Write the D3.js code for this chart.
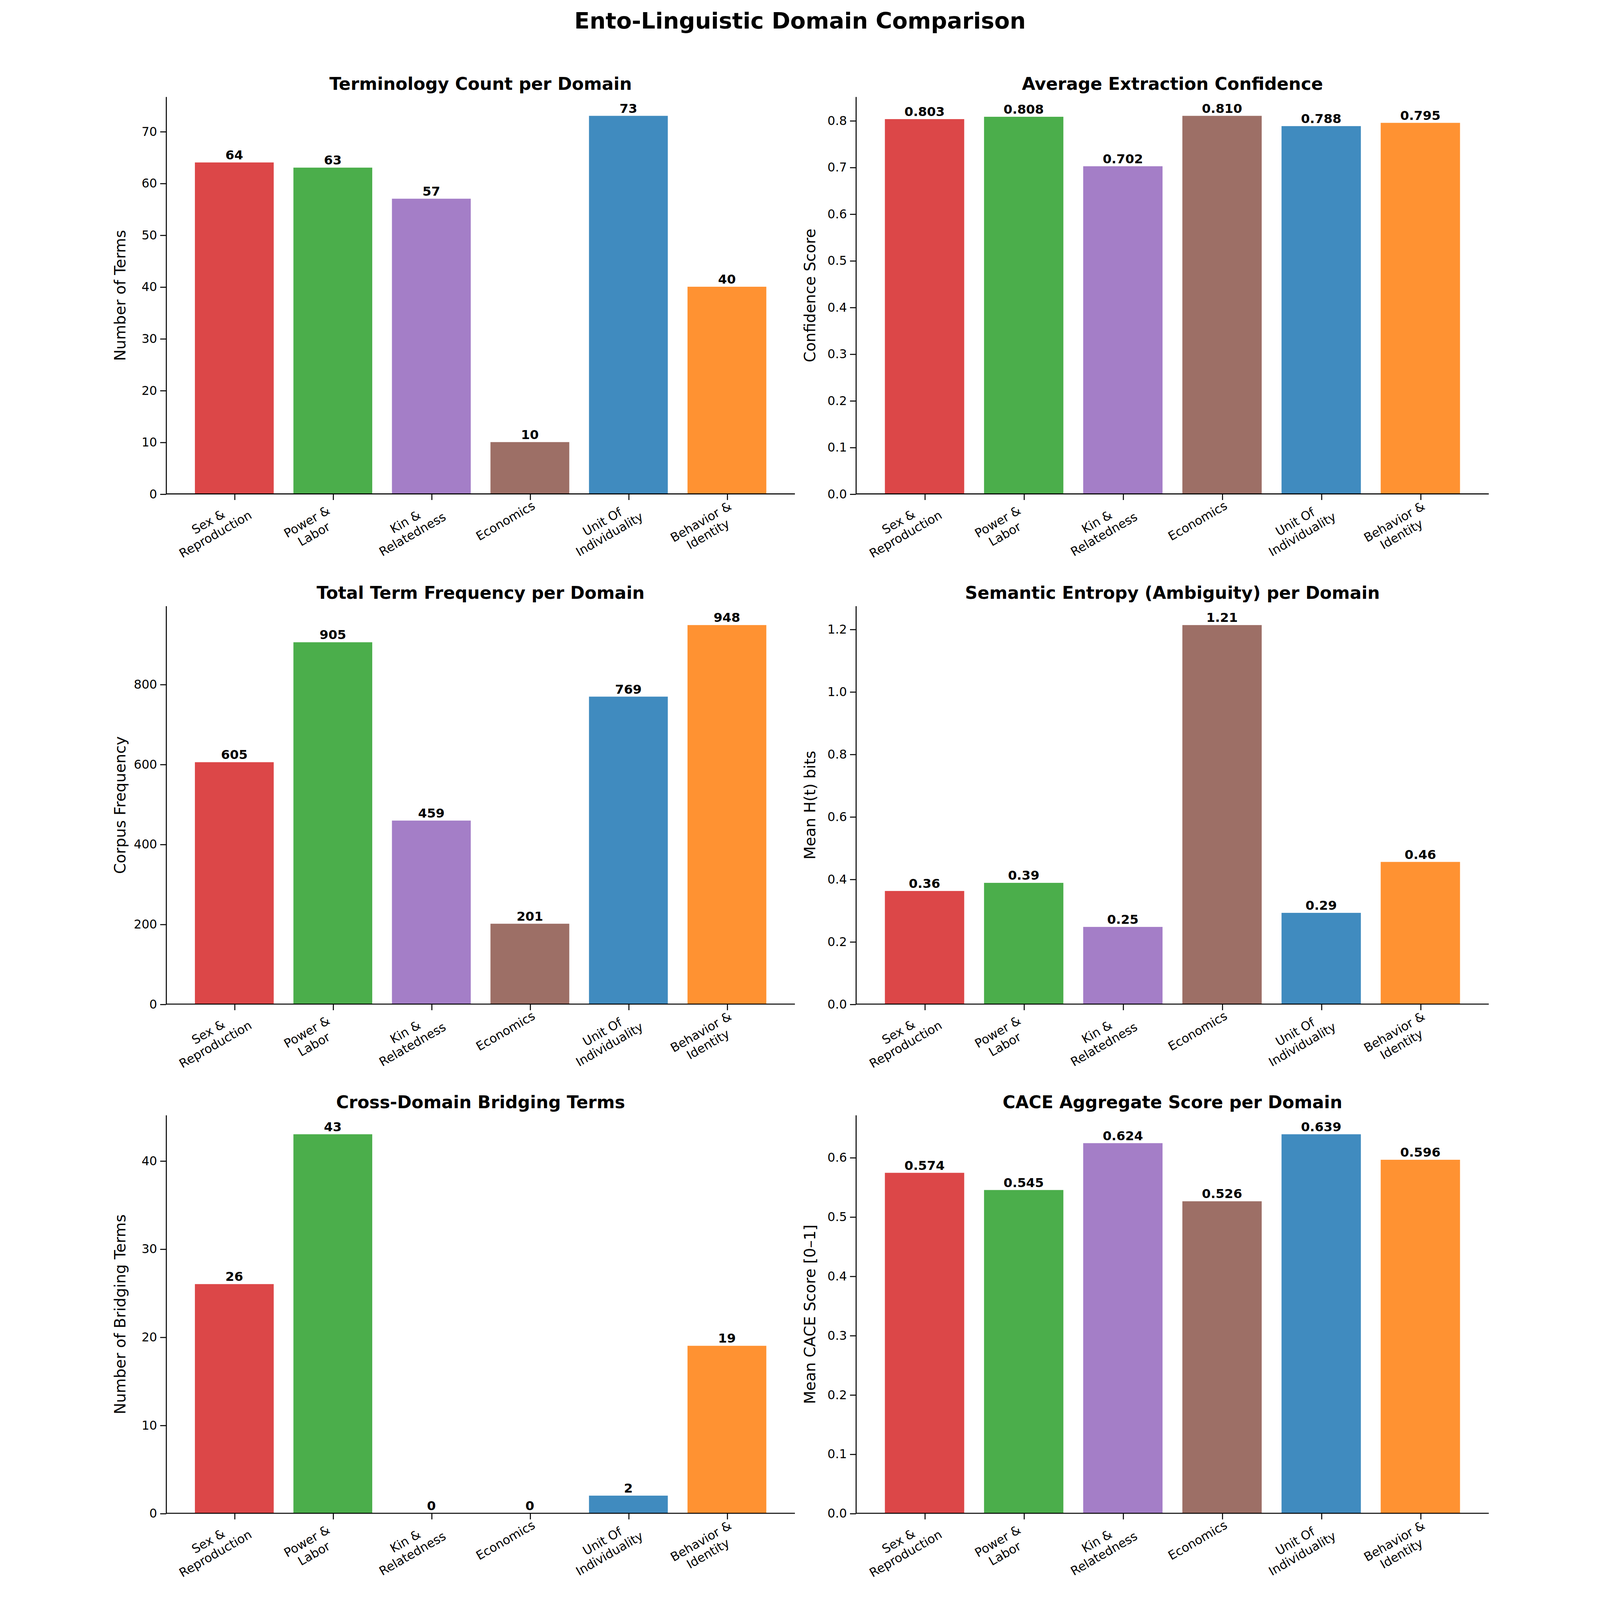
<!DOCTYPE html>
<html><head><meta charset="utf-8">
<script src="https://cdn.jsdelivr.net/npm/d3@7"></script>
<style>html,body{margin:0;padding:0;background:#fff;width:100%;height:100%;overflow:hidden}svg{display:block;width:100vw;height:100vh}text{font-family:"DejaVu Sans",sans-serif}</style>
</head><body>
<svg id="chart" viewBox="0 0 1370 1568" preserveAspectRatio="xMidYMid meet"></svg>
<script>
var domains = ["Sex &\nReproduction", "Power &\nLabor", "Kin &\nRelatedness", "Economics", "Unit Of\nIndividuality", "Behavior &\nIdentity"];
var colors = ["#d62728", "#2ca02c", "#9467bd", "#8c564b", "#1f77b4", "#ff7f0e"];
var termCount = [64, 63, 57, 10, 73, 40];
var confidence = [0.803, 0.808, 0.702, 0.810, 0.788, 0.795];
var frequency = [605, 905, 459, 201, 769, 948];
var entropy = [0.362, 0.388, 0.247, 1.213, 0.292, 0.455];
var bridging = [26, 43, 0, 0, 2, 19];
var cace = [0.574, 0.545, 0.624, 0.526, 0.639, 0.596];

var panels = [
  {title: "Terminology Count per Domain", ylab: "Number of Terms", data: termCount, fmt: "d", tick: 10, tfmt: "d"},
  {title: "Average Extraction Confidence", ylab: "Confidence Score", data: confidence, fmt: ".3f", tick: 0.1, tfmt: ".1f"},
  {title: "Total Term Frequency per Domain", ylab: "Corpus Frequency", data: frequency, fmt: "d", tick: 200, tfmt: "d"},
  {title: "Semantic Entropy (Ambiguity) per Domain", ylab: "Mean H(t) bits", data: entropy, fmt: ".2f", tick: 0.2, tfmt: ".1f"},
  {title: "Cross-Domain Bridging Terms", ylab: "Number of Bridging Terms", data: bridging, fmt: "d", tick: 10, tfmt: "d"},
  {title: "CACE Aggregate Score per Domain", ylab: "Mean CACE Score [0\u20131]", data: cace, fmt: ".3f", tick: 0.1, tfmt: ".1f"}
];

var svg = d3.select("#chart");
svg.append("text").attr("x", 685).attr("y", 28).attr("text-anchor", "middle")
  .attr("font-size", 22).attr("font-weight", "bold").text("Ento-Linguistic Domain Comparison");

var cols = [[64, 680], [740, 1360]];
var rows = [[95, 484], [594, 984], [1093, 1483]];

panels.forEach(function(p, i) {
  var c = cols[i % 2], r = rows[Math.floor(i / 2)];
  var g = svg.append("g");
  var x = d3.scaleLinear().domain([-0.69, 5.69]).range(c);
  var ymax = d3.max(p.data) * 1.05;
  var y = d3.scaleLinear().domain([0, ymax]).range([r[1], r[0]]);
  var ticks = d3.range(0, ymax + 1e-9, p.tick);

  g.selectAll("rect").data(p.data).join("rect")
    .attr("x", (d, j) => x(j - 0.4)).attr("width", x(0.8) - x(0))
    .attr("y", d => y(d)).attr("height", d => y(0) - y(d))
    .attr("fill", (d, j) => colors[j]).attr("fill-opacity", 0.85);

  g.selectAll(".val").data(p.data).join("text")
    .attr("x", (d, j) => x(j)).attr("y", d => y(d) - 3).attr("text-anchor", "middle")
    .attr("font-size", 12.5).attr("font-weight", "bold").text(d => d3.format(p.fmt)(d));

  var ya = g.append("g").attr("transform", "translate(" + c[0] + ",0)")
    .call(d3.axisLeft(y).tickValues(ticks).tickFormat(d3.format(p.tfmt)).tickSizeOuter(0));
  var xa = g.append("g").attr("transform", "translate(0," + r[1] + ")")
    .call(d3.axisBottom(x).tickValues(d3.range(6)).tickFormat("").tickSizeOuter(0));
  [ya, xa].forEach(a => { a.selectAll("path,line").attr("stroke", "#000"); a.selectAll("text").attr("font-size", 12).attr("fill", "#000"); });
  ya.select(".domain").attr("d", "M0," + r[0] + "V" + r[1]);
  xa.select(".domain").attr("d", "M" + c[0] + ",0H" + c[1]);

  domains.forEach(function(name, j) {
    var lines = name.split("\n");
    var t = g.append("text").attr("font-size", 12)
      .attr("transform", "translate(" + (x(j) + 6) + "," + (r[1] + 14) + ") rotate(-30)");
    lines.forEach(function(l, k) {
      t.append("tspan").attr("x", 0).attr("dy", k === 0 ? 0 : 14)
        .attr("text-anchor", lines.length > 1 ? "middle" : "end").attr("dx", lines.length > 1 ? -34 : 0).text(l);
    });
  });

  g.append("text").attr("x", (c[0] + c[1]) / 2).attr("y", r[0] - 7).attr("text-anchor", "middle")
    .attr("font-size", 17).attr("font-weight", "bold").text(p.title);
  g.append("text").attr("transform", "translate(" + (c[0] - 40) + "," + ((r[0] + r[1]) / 2) + ") rotate(-90)")
    .attr("text-anchor", "middle").attr("font-size", 15).text(p.ylab);
});
</script>
</body></html>
